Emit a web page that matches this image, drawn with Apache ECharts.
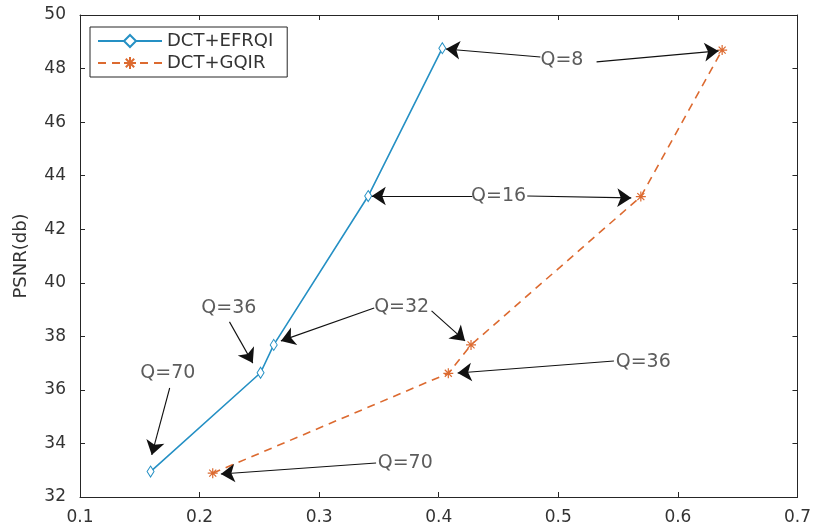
<!DOCTYPE html>
<html>
<head>
<meta charset="utf-8">
<script src="https://cdn.jsdelivr.net/npm/echarts@6/dist/echarts.min.js"></script>
<style>
  html, body { margin: 0; padding: 0; background: #fff; }
  #main { width: 814px; height: 528px; }
</style>
</head>
<body>
<div id="main"></div>
<script>
// 压缩率 (x) 与 PSNR (y)
var efrqiX = [0.159, 0.251, 0.262, 0.341, 0.403];
var efrqiY = [32.95, 36.64, 37.68, 43.24, 48.76];
var gqirX = [0.211, 0.408, 0.427, 0.569, 0.637];
var gqirY = [32.89, 36.62, 37.68, 43.22, 48.69];

// 标注文字
var noteText = ['Q=8', 'Q=16', 'Q=32', 'Q=36', 'Q=70', 'Q=36', 'Q=70'];
var noteX = [0.503, 0.450, 0.369, 0.2245, 0.1735, 0.571, 0.372];
var noteY = [48.32, 43.24, 39.10, 39.06, 36.63, 37.04, 33.27];

// 箭头 起点 -> 终点
var arrowFromX = [0.485, 0.532, 0.428, 0.474, 0.346, 0.394, 0.225, 0.175, 0.5465, 0.3476];
var arrowFromY = [48.43, 48.25, 43.24, 43.24, 39.06, 38.95, 38.54, 36.07, 37.08, 33.27];
var arrowToX = [0.406, 0.634, 0.344, 0.561, 0.268, 0.422, 0.2445, 0.160, 0.4158, 0.2178];
var arrowToY = [48.73, 48.66, 43.24, 43.17, 37.83, 37.83, 37.0, 33.57, 36.63, 32.86];

var BLUE = '#2590c4';
var ORANGE = '#dc6a30';
var AXIS = '#262626';
var TXT = '#333333';
var FONT = 'DejaVu Sans';
var ASTERISK = 'path://M5,0L5,10M0,5L10,5M1.5,1.5L8.5,8.5M1.5,8.5L8.5,1.5';

function zip(xs, ys) {
  var out = [];
  for (var i = 0; i < xs.length; i++) out.push([xs[i], ys[i]]);
  return out;
}

var arrows = [];
for (var i = 0; i < arrowFromX.length; i++) {
  arrows.push([
    { coord: [arrowFromX[i], arrowFromY[i]] },
    { coord: [arrowToX[i], arrowToY[i]] }
  ]);
}
var notes = [];
for (var j = 0; j < noteText.length; j++) {
  notes.push([noteX[j], noteY[j], noteText[j]]);
}

function boxAxis(extra) {
  var a = {
    axisLine: { show: true, onZero: false, lineStyle: { color: AXIS, width: 1 } },
    axisTick: { show: true, inside: true, length: 5, lineStyle: { color: AXIS } },
    splitLine: { show: false },
    axisLabel: { show: false }
  };
  for (var k in extra) a[k] = extra[k];
  return a;
}

var chart = echarts.init(document.getElementById('main'));
chart.setOption({
  animation: false,
  backgroundColor: '#fff',
  textStyle: { fontFamily: FONT },
  grid: { left: 80, right: 16, top: 15, bottom: 31, containLabel: false },
  legend: {
    orient: 'vertical',
    left: 90,
    top: 27,
    padding: [5, 14, 5, 7],
    itemGap: 4,
    itemWidth: 64,
    itemHeight: 15,
    borderColor: AXIS,
    borderWidth: 1,
    backgroundColor: '#fff',
    textStyle: { fontFamily: FONT, fontSize: 18, color: TXT },
    data: ['DCT+EFRQI', 'DCT+GQIR']
  },
  xAxis: [
    boxAxis({
      type: 'value', min: 0.1, max: 0.7, interval: 0.1, position: 'bottom',
      axisLabel: { show: true, color: TXT, fontSize: 17, fontFamily: FONT, margin: 12 }
    }),
    boxAxis({ type: 'value', min: 0.1, max: 0.7, interval: 0.1, position: 'top' })
  ],
  yAxis: [
    boxAxis({
      type: 'value', min: 32, max: 50, interval: 2, position: 'left',
      name: 'PSNR(db)', nameLocation: 'middle', nameGap: 50,
      nameTextStyle: { color: TXT, fontSize: 18, fontFamily: FONT },
      axisLabel: { show: true, color: TXT, fontSize: 17, fontFamily: FONT, margin: 14 }
    }),
    boxAxis({ type: 'value', min: 32, max: 50, interval: 2, position: 'right' })
  ],
  series: [
    {
      name: 'DCT+EFRQI',
      type: 'line',
      data: zip(efrqiX, efrqiY),
      symbol: 'diamond',
      symbolSize: [7, 11],
      showAllSymbol: true,
      lineStyle: { color: BLUE, width: 1.6 },
      itemStyle: { color: '#fff', borderColor: BLUE, borderWidth: 1 },
      z: 3
    },
    {
      name: 'DCT+GQIR',
      type: 'line',
      data: zip(gqirX, gqirY),
      symbol: ASTERISK,
      symbolSize: 10,
      lineStyle: { color: ORANGE, width: 1.6, type: [8, 6] },
      itemStyle: { color: 'transparent', borderColor: ORANGE, borderWidth: 1.2 },
      z: 3
    },
    {
      name: 'arrows',
      type: 'line',
      data: [],
      markLine: {
        silent: true,
        symbol: ['none', 'arrow'],
        symbolSize: 14,
        label: { show: false },
        lineStyle: { color: '#111', width: 1.1, type: 'solid' },
        data: arrows
      },
      z: 4
    },
    {
      name: 'notes',
      type: 'scatter',
      data: notes,
      symbolSize: 0,
      silent: true,
      label: {
        show: true,
        position: 'inside',
        formatter: function (p) { return p.data[2]; },
        color: TXT,
        fontSize: 19,
        fontFamily: FONT
      },
      z: 5
    }
  ]
});
</script>
</body>
</html>
